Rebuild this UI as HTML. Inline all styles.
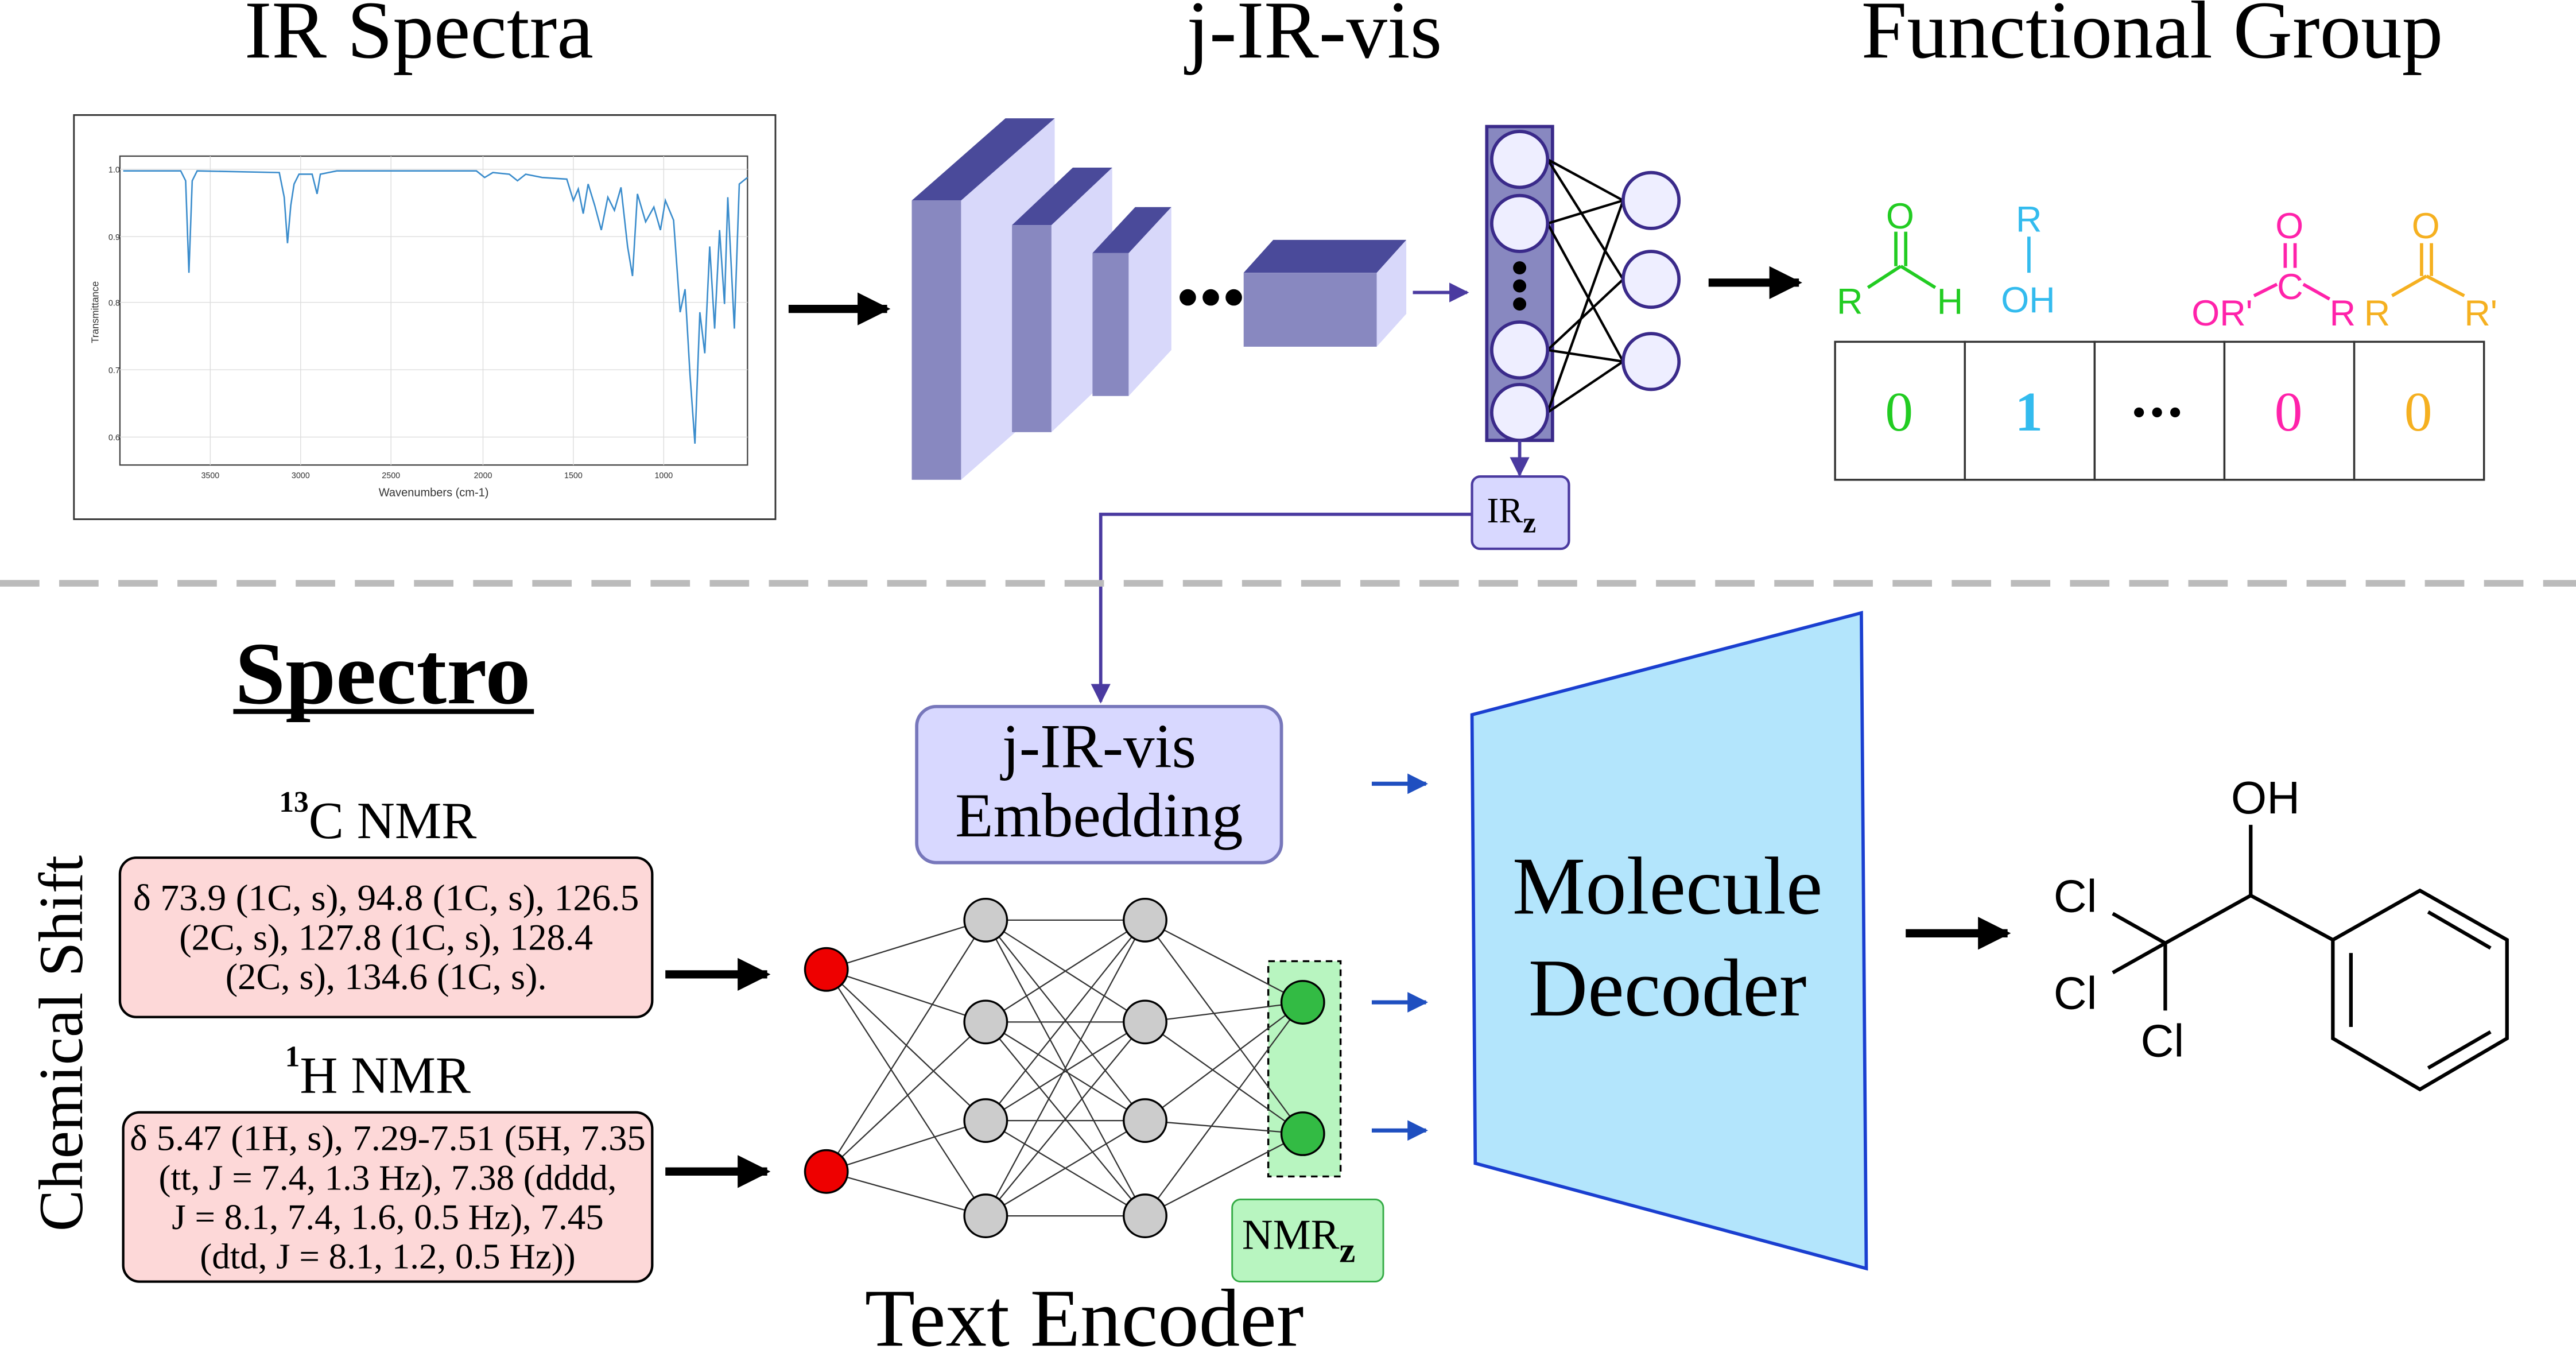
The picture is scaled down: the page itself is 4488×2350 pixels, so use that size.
<!DOCTYPE html>
<html><head><meta charset="utf-8"><style>html,body{margin:0;padding:0;background:#fff}svg{display:block}</style></head>
<body>
<svg width="4488" height="2350" viewBox="0 0 1568 821" xmlns="http://www.w3.org/2000/svg" font-family="Liberation Serif, serif">
<defs>
<marker id="ab" viewBox="0 0 10 10" refX="9" refY="5" markerWidth="4" markerHeight="4" orient="auto"><path d="M0,0L10,5L0,10z" fill="#000"/></marker>
<marker id="ap" viewBox="0 0 10 10" refX="9" refY="5" markerWidth="6" markerHeight="6" orient="auto"><path d="M0,0L10,5L0,10z" fill="#4a3aa0"/></marker>
<marker id="abl" viewBox="0 0 10 10" refX="9" refY="5" markerWidth="5" markerHeight="5" orient="auto"><path d="M0,0L10,5L0,10z" fill="#1f4fc0"/></marker>
</defs>
<rect width="1568" height="821" fill="#fff"/>
<!-- titles -->
<text x="255" y="35" font-size="50" text-anchor="middle">IR Spectra</text>
<text x="800" y="35" font-size="50" text-anchor="middle">j-IR-vis</text>
<text x="1310" y="35" font-size="50" text-anchor="middle">Functional Group</text>
<!-- spectrum -->
<rect x="45" y="70" width="427" height="246" fill="#fff" stroke="#333" stroke-width="1"/>
<rect x="73" y="95" width="382" height="188" fill="#fff" stroke="#444" stroke-width="0.8"/>
<g stroke="#ddd" stroke-width="0.5">
<line x1="128" y1="95" x2="128" y2="283"/><line x1="183" y1="95" x2="183" y2="283"/><line x1="238" y1="95" x2="238" y2="283"/><line x1="294" y1="95" x2="294" y2="283"/><line x1="349" y1="95" x2="349" y2="283"/><line x1="404" y1="95" x2="404" y2="283"/>
<line x1="73" y1="103" x2="455" y2="103"/><line x1="73" y1="144" x2="455" y2="144"/><line x1="73" y1="184" x2="455" y2="184"/><line x1="73" y1="225" x2="455" y2="225"/><line x1="73" y1="266" x2="455" y2="266"/>
</g>
<polyline fill="none" stroke="#3a8ccc" stroke-width="0.9" points="75,104 110,104 113,110 115,166 117,110 120,104 170,105 173,120 175,148 177,125 179,112 182,106 190,106 193,118 195,106 205,104 290,104 295,108 300,105 310,106 315,110 320,106 330,108 345,109 349,122 352,115 355,130 358,112 362,125 366,140 370,120 374,128 378,114 382,150 385,168 388,118 393,135 398,126 402,140 405,122 410,134 414,190 417,176 420,228 423,270 426,190 429,215 432,150 435,200 438,140 441,185 443,120 447,200 450,112 455,108"/>
<g font-family="Liberation Sans, sans-serif" font-size="5" fill="#333">
<text x="66" y="105">1.0</text><text x="66" y="146">0.9</text><text x="66" y="186">0.8</text><text x="66" y="227">0.7</text><text x="66" y="268">0.6</text>
<text x="128" y="291" text-anchor="middle">3500</text><text x="183" y="291" text-anchor="middle">3000</text><text x="238" y="291" text-anchor="middle">2500</text><text x="294" y="291" text-anchor="middle">2000</text><text x="349" y="291" text-anchor="middle">1500</text><text x="404" y="291" text-anchor="middle">1000</text>
<text x="264" y="302" text-anchor="middle" font-size="7">Wavenumbers (cm-1)</text>
<text transform="translate(60,190) rotate(-90)" text-anchor="middle" font-size="6">Transmittance</text>
</g>
<line x1="480" y1="188" x2="540" y2="188" stroke="#000" stroke-width="5" marker-end="url(#ab)"/>
<!-- CNN blocks -->
<g>
<polygon points="585,122 642,72 642,242 585,292" fill="#d8d8fa"/>
<polygon points="555,122 612,72 642,72 585,122" fill="#4a4a9a"/>
<rect x="555" y="122" width="30" height="170" fill="#8888c0"/>
<polygon points="640,137 677,102 677,228 640,263" fill="#d8d8fa"/>
<polygon points="616,137 653,102 677,102 640,137" fill="#4a4a9a"/>
<rect x="616" y="137" width="24" height="126" fill="#8888c0"/>
<polygon points="687,154 713,126 713,213 687,241" fill="#d8d8fa"/>
<polygon points="665,154 691,126 713,126 687,154" fill="#4a4a9a"/>
<rect x="665" y="154" width="22" height="87" fill="#8888c0"/>
<circle cx="723" cy="181" r="5"/><circle cx="737" cy="181" r="5"/><circle cx="751" cy="181" r="5"/>
<polygon points="838,166 856,146 856,191 838,211" fill="#d8d8fa"/>
<polygon points="757,166 775,146 856,146 838,166" fill="#4a4a9a"/>
<rect x="757" y="166" width="81" height="45" fill="#8888c0"/>
</g>
<line x1="860" y1="178" x2="893" y2="178" stroke="#4a3aa0" stroke-width="2" marker-end="url(#ap)"/>
<!-- FC layer -->
<rect x="905" y="77" width="40" height="191" fill="#8888c0" stroke="#3a2a8a" stroke-width="2"/>
<g stroke="#000" stroke-width="1.5">
<line x1="942" y1="97" x2="988" y2="122"/><line x1="942" y1="97" x2="988" y2="170"/><line x1="942" y1="136" x2="988" y2="122"/><line x1="942" y1="136" x2="988" y2="220"/><line x1="942" y1="213" x2="988" y2="170"/><line x1="942" y1="213" x2="988" y2="220"/><line x1="942" y1="251" x2="988" y2="220"/><line x1="942" y1="251" x2="988" y2="122"/>
</g>
<g fill="#eeeeff" stroke="#3a2a8a" stroke-width="2">
<circle cx="925" cy="97" r="17"/><circle cx="925" cy="136" r="17"/><circle cx="925" cy="213" r="17"/><circle cx="925" cy="251" r="17"/>
<circle cx="1005" cy="122" r="17"/><circle cx="1005" cy="170" r="17"/><circle cx="1005" cy="220" r="17"/>
</g>
<circle cx="925" cy="163" r="4"/><circle cx="925" cy="174" r="4"/><circle cx="925" cy="185" r="4"/>
<line x1="925" y1="268" x2="925" y2="289" stroke="#4a3aa0" stroke-width="2" marker-end="url(#ap)"/>
<rect x="896" y="290" width="59" height="44" rx="5" fill="#d8d8ff" stroke="#4a3aa0" stroke-width="1.5"/>
<text x="905" y="318" font-size="22">IR<tspan font-weight="bold" font-size="18" dy="6">z</tspan></text>
<polyline points="896,313 670,313 670,427" fill="none" stroke="#4a3aa0" stroke-width="2" marker-end="url(#ap)"/>
<line x1="1040" y1="172" x2="1095" y2="172" stroke="#000" stroke-width="5" marker-end="url(#ab)"/>
<!-- functional groups -->
<g font-family="Liberation Sans, sans-serif" font-size="22">
<g fill="#22cc22" stroke="#22cc22" stroke-width="2">
<line x1="1137" y1="175" x2="1157" y2="162" /><line x1="1157" y1="162" x2="1178" y2="175"/><line x1="1154" y1="162" x2="1154" y2="141"/><line x1="1160" y1="162" x2="1160" y2="141"/>
<text x="1118" y="191" stroke="none">R</text><text x="1148" y="139" stroke="none">O</text><text x="1179" y="191" stroke="none">H</text>
</g>
<g fill="#33bbee" stroke="#33bbee" stroke-width="2">
<line x1="1235" y1="144" x2="1235" y2="166"/>
<text x="1227" y="141" stroke="none">R</text><text x="1218" y="190" stroke="none">OH</text>
</g>
<g fill="#ff22aa" stroke="#ff22aa" stroke-width="2">
<line x1="1391" y1="148" x2="1391" y2="163"/><line x1="1397" y1="148" x2="1397" y2="163"/><line x1="1372" y1="180" x2="1386" y2="173"/><line x1="1402" y1="173" x2="1418" y2="182"/>
<text x="1385" y="145" stroke="none">O</text><text x="1386" y="182" stroke="none">C</text><text x="1334" y="198" stroke="none">OR'</text><text x="1418" y="198" stroke="none">R</text>
</g>
<g fill="#f5b020" stroke="#f5b020" stroke-width="2">
<line x1="1474" y1="148" x2="1474" y2="168"/><line x1="1480" y1="148" x2="1480" y2="168"/><line x1="1456" y1="180" x2="1477" y2="168"/><line x1="1477" y1="168" x2="1500" y2="180"/>
<text x="1468" y="145" stroke="none">O</text><text x="1439" y="198" stroke="none">R</text><text x="1500" y="198" stroke="none">R'</text>
</g>
</g>
<g fill="#fff" stroke="#333" stroke-width="1.2">
<rect x="1117" y="208" width="79" height="84"/><rect x="1196" y="208" width="79" height="84"/><rect x="1275" y="208" width="79" height="84"/><rect x="1354" y="208" width="79" height="84"/><rect x="1433" y="208" width="79" height="84"/>
</g>
<text x="1156" y="262" font-size="34" text-anchor="middle" fill="#22cc22">0</text>
<text x="1235" y="262" font-size="34" text-anchor="middle" fill="#33bbee" font-weight="bold">1</text>
<circle cx="1302" cy="251" r="3"/><circle cx="1313" cy="251" r="3"/><circle cx="1324" cy="251" r="3"/>
<text x="1393" y="262" font-size="34" text-anchor="middle" fill="#ff22aa">0</text>
<text x="1472" y="262" font-size="34" text-anchor="middle" fill="#f5b020">0</text>
<!-- dashed separator -->
<line x1="0" y1="355" x2="1568" y2="355" stroke="#bbb" stroke-width="4" stroke-dasharray="24,12"/>
<!-- Spectro -->
<text x="233" y="428" font-size="54" font-weight="bold" text-anchor="middle" textLength="180" lengthAdjust="spacingAndGlyphs">Spectro</text>
<line x1="142" y1="433" x2="325" y2="433" stroke="#000" stroke-width="3"/>
<text transform="translate(50,635) rotate(-90)" font-size="38" text-anchor="middle">Chemical Shift</text>
<text x="230" y="510" font-size="32" text-anchor="middle"><tspan font-size="18" font-weight="bold" dy="-16">13</tspan><tspan dy="16">C NMR</tspan></text>
<rect x="73" y="522" width="324" height="97" rx="10" fill="#fdd8d8" stroke="#000" stroke-width="1.5"/>
<g font-size="22.5" text-anchor="middle">
<text x="235" y="554" textLength="308" lengthAdjust="spacingAndGlyphs">δ 73.9 (1C, s), 94.8 (1C, s), 126.5</text>
<text x="235" y="578">(2C, s), 127.8 (1C, s), 128.4</text>
<text x="235" y="602">(2C, s), 134.6 (1C, s).</text>
</g>
<text x="230" y="665" font-size="32" text-anchor="middle"><tspan font-size="18" font-weight="bold" dy="-16">1</tspan><tspan dy="16">H NMR</tspan></text>
<rect x="75" y="677" width="322" height="103" rx="10" fill="#fdd8d8" stroke="#000" stroke-width="1.5"/>
<g font-size="22" text-anchor="middle">
<text x="236" y="700" textLength="314" lengthAdjust="spacingAndGlyphs">δ 5.47 (1H, s), 7.29-7.51 (5H, 7.35</text>
<text x="236" y="724">(tt, J = 7.4, 1.3 Hz), 7.38 (dddd,</text>
<text x="236" y="748">J = 8.1, 7.4, 1.6, 0.5 Hz), 7.45</text>
<text x="236" y="772">(dtd, J = 8.1, 1.2, 0.5 Hz))</text>
</g>
<line x1="405" y1="593" x2="467" y2="593" stroke="#000" stroke-width="5" marker-end="url(#ab)"/>
<line x1="405" y1="713" x2="467" y2="713" stroke="#000" stroke-width="5" marker-end="url(#ab)"/>
<!-- NN -->
<rect x="772" y="585" width="44" height="131" fill="#b8f5c0" stroke="#000" stroke-width="1.2" stroke-dasharray="4,3"/>
<g stroke="#333" stroke-width="0.8">
<line x1="503" y1="590" x2="600" y2="560"/><line x1="503" y1="590" x2="600" y2="622"/><line x1="503" y1="590" x2="600" y2="682"/><line x1="503" y1="590" x2="600" y2="740"/>
<line x1="503" y1="713" x2="600" y2="560"/><line x1="503" y1="713" x2="600" y2="622"/><line x1="503" y1="713" x2="600" y2="682"/><line x1="503" y1="713" x2="600" y2="740"/>
<line x1="600" y1="560" x2="697" y2="560"/><line x1="600" y1="560" x2="697" y2="622"/><line x1="600" y1="560" x2="697" y2="682"/><line x1="600" y1="560" x2="697" y2="740"/>
<line x1="600" y1="622" x2="697" y2="560"/><line x1="600" y1="622" x2="697" y2="622"/><line x1="600" y1="622" x2="697" y2="682"/><line x1="600" y1="622" x2="697" y2="740"/>
<line x1="600" y1="682" x2="697" y2="560"/><line x1="600" y1="682" x2="697" y2="622"/><line x1="600" y1="682" x2="697" y2="682"/><line x1="600" y1="682" x2="697" y2="740"/>
<line x1="600" y1="740" x2="697" y2="560"/><line x1="600" y1="740" x2="697" y2="622"/><line x1="600" y1="740" x2="697" y2="682"/><line x1="600" y1="740" x2="697" y2="740"/>
<line x1="697" y1="560" x2="793" y2="610"/><line x1="697" y1="560" x2="793" y2="690"/><line x1="697" y1="622" x2="793" y2="610"/><line x1="697" y1="622" x2="793" y2="690"/>
<line x1="697" y1="682" x2="793" y2="610"/><line x1="697" y1="682" x2="793" y2="690"/><line x1="697" y1="740" x2="793" y2="610"/><line x1="697" y1="740" x2="793" y2="690"/>
</g>
<g stroke="#000" stroke-width="1.2">
<circle cx="503" cy="590" r="13" fill="#ee0000"/><circle cx="503" cy="713" r="13" fill="#ee0000"/>
<g fill="#cccccc"><circle cx="600" cy="560" r="13"/><circle cx="600" cy="622" r="13"/><circle cx="600" cy="682" r="13"/><circle cx="600" cy="740" r="13"/>
<circle cx="697" cy="560" r="13"/><circle cx="697" cy="622" r="13"/><circle cx="697" cy="682" r="13"/><circle cx="697" cy="740" r="13"/></g>
<circle cx="793" cy="610" r="13" fill="#33bb44"/><circle cx="793" cy="690" r="13" fill="#33bb44"/>
</g>
<rect x="750" y="730" width="92" height="50" rx="5" fill="#b8f5c0" stroke="#33aa44" stroke-width="1"/>
<text x="756" y="760" font-size="26">NMR<tspan font-weight="bold" font-size="22" dy="8">z</tspan></text>
<text x="660" y="819" font-size="50" text-anchor="middle">Text Encoder</text>
<!-- embedding -->
<rect x="558" y="430" width="222" height="95" rx="12" fill="#d8d8ff" stroke="#7777bb" stroke-width="2"/>
<text x="669" y="467" font-size="38" text-anchor="middle">j-IR-vis</text>
<text x="669" y="509" font-size="38" text-anchor="middle">Embedding</text>
<g stroke="#1f4fc0" stroke-width="2.5">
<line x1="835" y1="477" x2="868" y2="477" marker-end="url(#abl)"/>
<line x1="835" y1="610" x2="868" y2="610" marker-end="url(#abl)"/>
<line x1="835" y1="688" x2="868" y2="688" marker-end="url(#abl)"/>
</g>
<!-- decoder -->
<polygon points="896,435 1133,373 1136,772 898,708" fill="#b3e5fc" stroke="#1a3fd0" stroke-width="2"/>
<text x="1015" y="556" font-size="50" text-anchor="middle">Molecule</text>
<text x="1015" y="618" font-size="50" text-anchor="middle">Decoder</text>
<line x1="1160" y1="568" x2="1222" y2="568" stroke="#000" stroke-width="5" marker-end="url(#ab)"/>
<!-- molecule -->
<g stroke="#000" stroke-width="2.2" fill="none">
<line x1="1286" y1="556" x2="1318" y2="574"/><line x1="1286" y1="592" x2="1318" y2="574"/><line x1="1318" y1="574" x2="1318" y2="615"/>
<line x1="1318" y1="574" x2="1370" y2="545"/><line x1="1370" y1="545" x2="1370" y2="502"/><line x1="1370" y1="545" x2="1420" y2="572"/>
<polygon points="1420,572 1473,542 1526,572 1526,632 1473,663 1420,632"/>
<line x1="1431" y1="580" x2="1431" y2="625"/><line x1="1478" y1="555" x2="1516" y2="577"/><line x1="1478" y1="650" x2="1516" y2="628"/>
</g>
<g font-family="Liberation Sans, sans-serif" font-size="28">
<text x="1358" y="495">OH</text>
<text x="1250" y="555">Cl</text>
<text x="1250" y="614">Cl</text>
<text x="1303" y="643">Cl</text>
</g>
</svg>
</body></html>
